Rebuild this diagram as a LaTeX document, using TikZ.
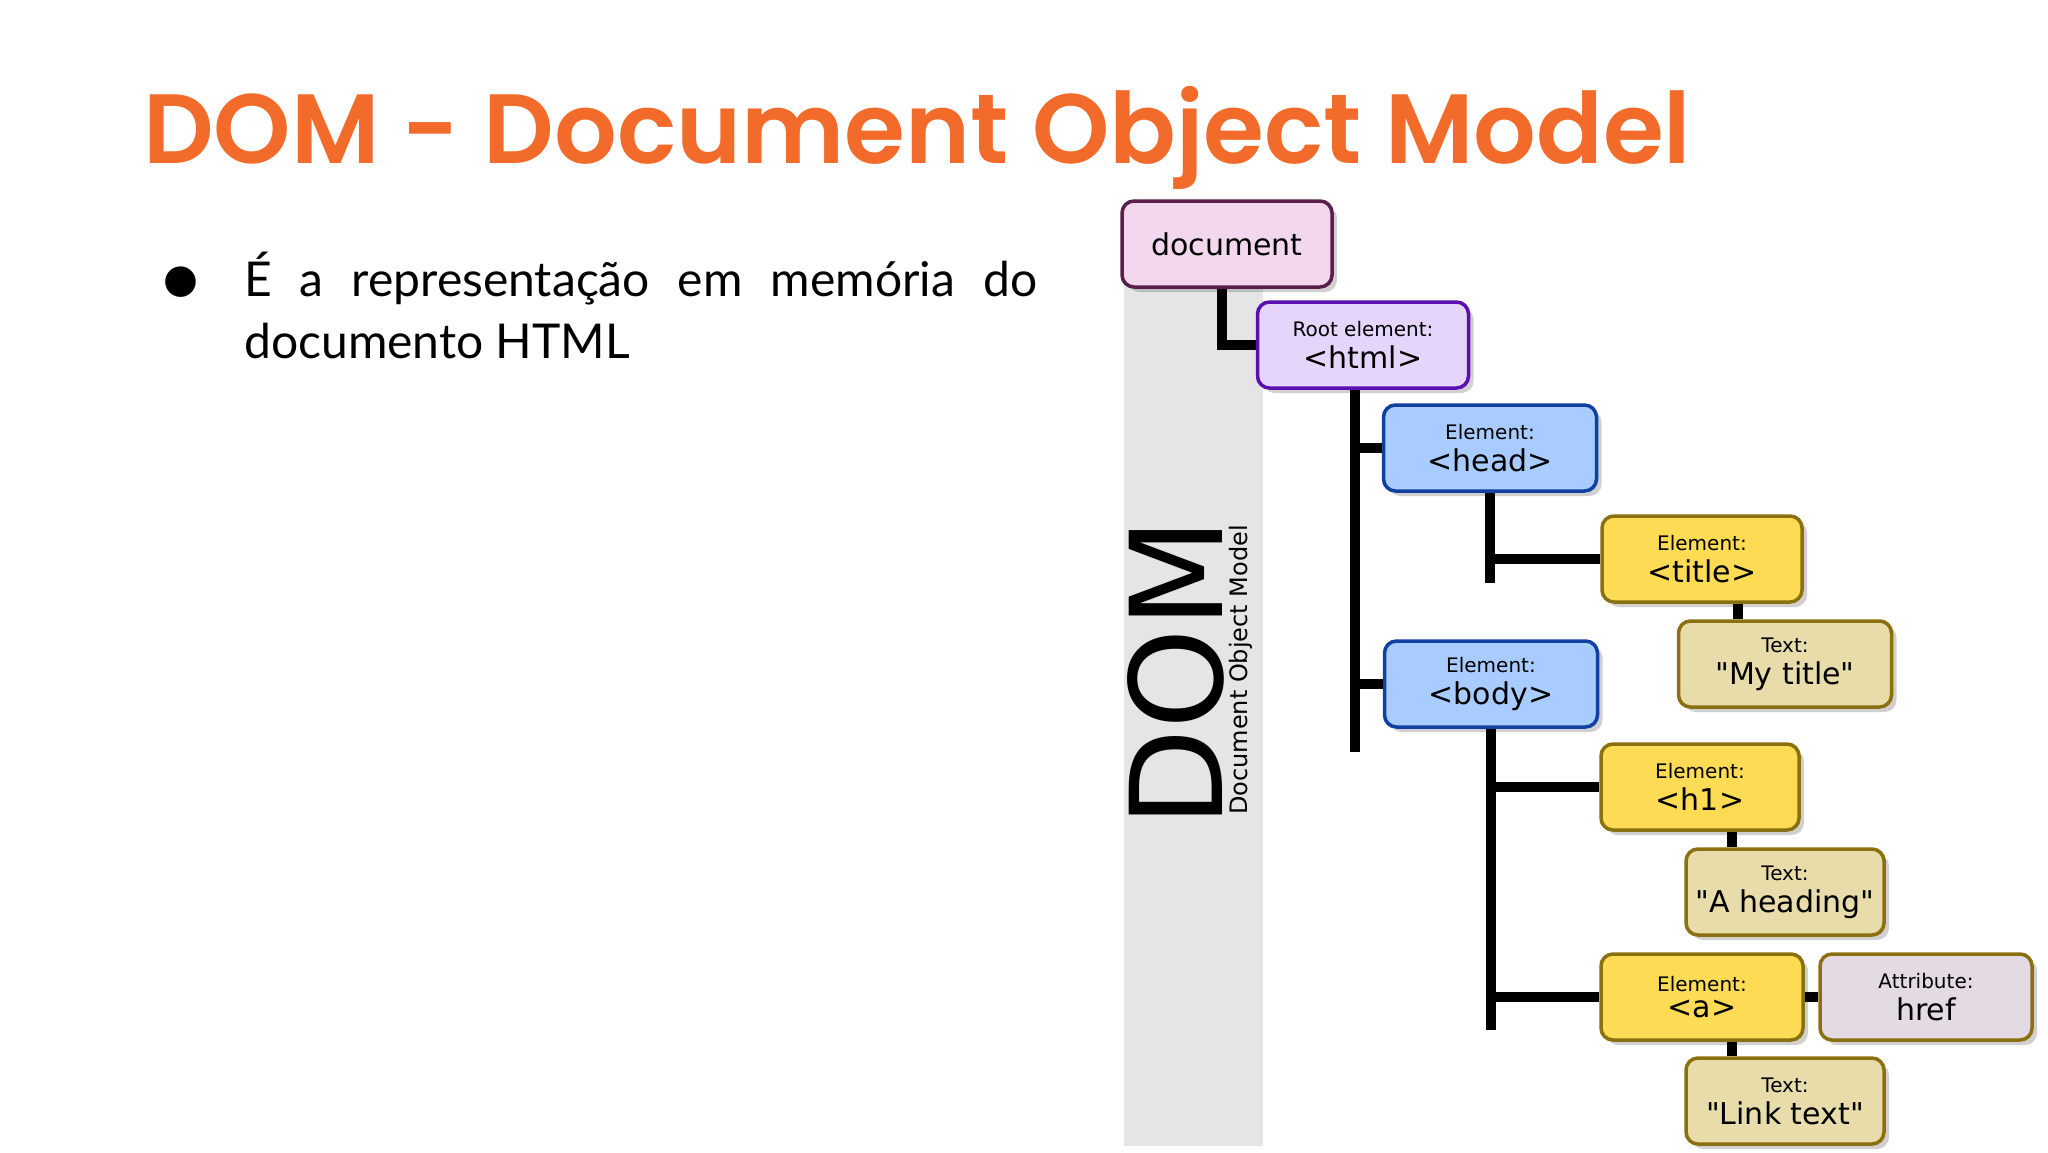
\documentclass[tikz,border=0pt]{standalone}
\usepackage{fontspec}
\setmainfont{Lato}
\newfontfamily\dv{DejaVu Sans}
\newfontfamily\titlefont{Poppins SemiBold}
\usetikzlibrary{shadows}
\definecolor{orangeT}{HTML}{F26B2A}
\tikzset{
 box/.style={draw, rounded corners=12pt, line width=3.5pt, align=center, inner sep=0pt, font=\dv,
   drop shadow={shadow xshift=5pt, shadow yshift=-5pt, opacity=0.3, fill=black!60}},
 docb/.style={box, fill=HTMLdocF, draw=HTMLdocD},
 htmlb/.style={box, fill=HTMLhtF, draw=HTMLhtD},
 blueb/.style={box, fill=HTMLblF, draw=HTMLblD},
 yelb/.style={box, fill=HTMLyeF, draw=HTMLyeD},
 txtb/.style={box, fill=HTMLtxF, draw=HTMLyeD},
 attb/.style={box, fill=HTMLatF, draw=HTMLyeD},
 link/.style={line width=10pt, black},
}
\definecolor{HTMLdocF}{HTML}{F2D7EE}\definecolor{HTMLdocD}{HTML}{5A1E4A}
\definecolor{HTMLhtF}{HTML}{E6D5FA}\definecolor{HTMLhtD}{HTML}{5B0FAE}
\definecolor{HTMLblF}{HTML}{A8CCFF}\definecolor{HTMLblD}{HTML}{1040A0}
\definecolor{HTMLyeF}{HTML}{FDDB55}\definecolor{HTMLyeD}{HTML}{8B7010}
\definecolor{HTMLtxF}{HTML}{E8DCAA}\definecolor{HTMLatF}{HTML}{E3DAE3}
\newcommand{\lab}[2]{{\fontsize{20}{24}\selectfont #1}\\[8pt]{\fontsize{30}{34}\selectfont #2}}
\begin{document}
\begin{tikzpicture}[x=1pt,y=-1pt]
\useasboundingbox (0,0) rectangle (2048,1152);
\fill[white] (0,0) rectangle (2048,1152);
\node[anchor=west, inner sep=0pt, text=orangeT] (title) at (143,138) {\resizebox{1548pt}{!}{\titlefont DOM - Document Object Model}};
\node[anchor=north west, inner sep=0pt, text width=793pt, align=justify, font=\fontsize{48}{62}\selectfont] (bul) at (244,252) {É a representação em memória do documento HTML};
\node[anchor=center, inner sep=0pt, font=\dv\fontsize{40}{40}\selectfont] (dot) at (181,282) {●};
% gray band
\fill[black!10] (1124,250) rectangle (1263,1146);
\node[rotate=90, inner sep=0pt, font=\dv\fontsize{128}{128}\selectfont] (dom) at (1176,673) {DOM};
\node[rotate=90, inner sep=0pt, font=\dv\fontsize{24}{24}\selectfont] (dommod) at (1241,670) {Document Object Model};
% boxes
\node[docb, minimum width=210pt, minimum height=86pt, font=\dv\fontsize{30}{34}\selectfont] (doc) at (1227,244) {document};
\node[htmlb, minimum width=211pt, minimum height=86pt] (html) at (1363,345) {\lab{Root element:}{<html>}};
\node[blueb, minimum width=213pt, minimum height=86pt] (head) at (1490,448) {\lab{Element:}{<head>}};
\node[yelb, minimum width=200pt, minimum height=86pt] (ttl) at (1702,559) {\lab{Element:}{<title>}};
\node[txtb, minimum width=213pt, minimum height=86pt] (myt) at (1785,664) {\lab{Text:}{"My title"}};
\node[blueb, minimum width=213pt, minimum height=86pt] (body) at (1491,684) {\lab{Element:}{<body>}};
\node[yelb, minimum width=198pt, minimum height=86pt] (h1) at (1700,787) {\lab{Element:}{<h1>}};
\node[txtb, minimum width=198pt, minimum height=86pt] (ahead) at (1785,892) {\lab{Text:}{"A heading"}};
\node[yelb, minimum width=202pt, minimum height=86pt] (a) at (1702,997) {\lab{Element:}{<a>}};
\node[attb, minimum width=212pt, minimum height=86pt] (href) at (1926,997) {\lab{Attribute:}{href}};
\node[txtb, minimum width=198pt, minimum height=86pt] (lt) at (1785,1101) {\lab{Text:}{"Link text"}};
% connectors
\begin{scope}[on background layer/.style={}]
\draw[link] ([xshift=-5pt]doc.south) |- (html.west);
\draw[link] ([xshift=-8pt]html.south) -- ++(0,362) coordinate (hend);
\draw[link] ([xshift=-8pt]html.south |- head.west) -- (head.west);
\draw[link] ([xshift=-8pt]html.south |- body.west) -- (body.west);
\draw[link] (head.south) -- ++(0,90);
\draw[link] (head.south |- ttl.west) -- (ttl.west);
\draw[link] ([xshift=36pt]ttl.south) -- ([xshift=-47pt]myt.north);
\draw[link] (body.south) -- ++(0,301);
\draw[link] (body.south |- h1.west) -- (h1.west);
\draw[link] (body.south |- a.west) -- (a.west);
\draw[link] ([xshift=32pt]h1.south) -- ([xshift=-53pt]ahead.north);
\draw[link] ([xshift=30pt]a.south) -- ([xshift=-53pt]lt.north);
\draw[link] (a.east) -- (href.west);
\end{scope}
\end{tikzpicture}
\end{document}
